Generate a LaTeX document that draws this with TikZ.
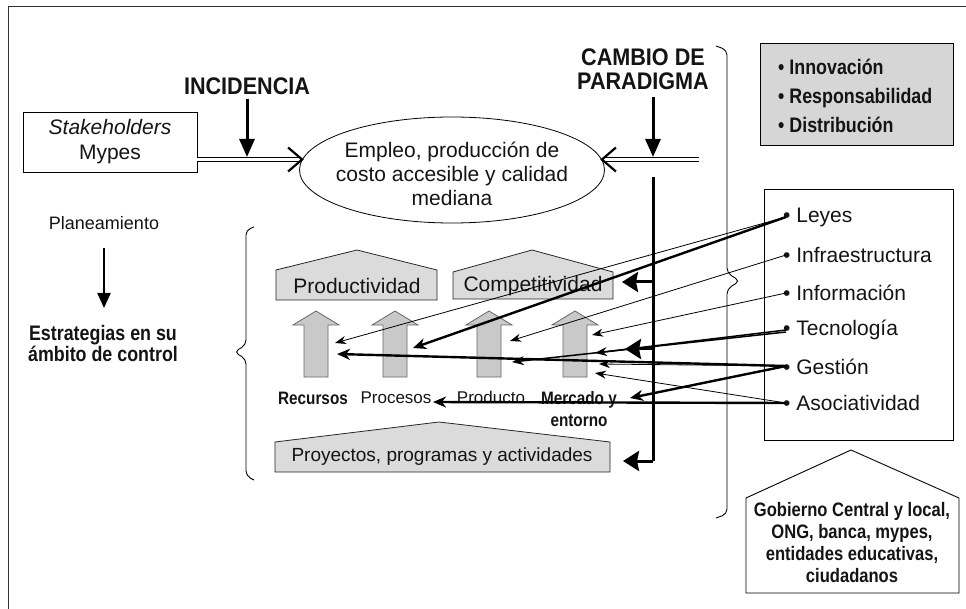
\documentclass[tikz,border=0pt]{standalone}
\usepackage{fontspec}
\setmainfont{Liberation Sans}
\newfontfamily\cnd[FakeStretch=0.85]{Liberation Sans}
\newfontfamily\cndh[FakeStretch=0.9]{Liberation Sans}
\usetikzlibrary{arrows.meta,shapes.geometric}
\newcommand\fsz[2]{\fontsize{#1}{#2}\selectfont}
\begin{document}
\begin{tikzpicture}[x=1pt,y=-1pt,
  every node/.style={inner sep=0pt, text=black!92},
  reg/.style={font=\fsz{21}{25}},
  thinc/.style={line width=0.8pt, -{Stealth[length=11pt,width=8pt,inset=3.5pt]}},
  medc/.style={line width=1.5pt, -{Stealth[length=12pt,width=9pt,inset=4pt]}},
  thickc/.style={line width=2.4pt, -{Stealth[length=13pt,width=11pt,inset=4pt]}},
  branchc/.style={line width=3pt, -{Stealth[length=16pt,width=20pt,inset=2pt]}},
  downarr/.style={line width=3pt, -{Triangle[length=18pt,width=15pt]}},
  dbl/.style={double, double distance=2.6pt, line width=0.8pt},
  chev/.style={line width=2.2pt, line join=miter},
  pent/.style={draw=black!85, fill=gray!28, line width=0.8pt},
  blk/.style={draw=black!60, fill=gray!42, line width=0.8pt},
  brace/.style={line width=0.9pt, rounded corners=5pt}
]
\useasboundingbox (0,0) rectangle (966,609);
% frame
\draw[line width=0.9pt, black!80] (966,6) -- (8,6) -- (8,609);

% ---------- top row ----------
\node[draw, line width=0.8pt, minimum width=174pt, minimum height=60pt, align=center, font=\fsz{21}{25}] (stk) at (110,142) {\textit{Stakeholders}\\Mypes};
\node[font=\cndh\bfseries\fsz{24}{24}] (inc) at (247,86) {INCIDENCIA};
\node[font=\cndh\bfseries\fsz{24}{24}, align=center] (cam) at (643,69) {CAMBIO DE\\PARADIGMA};

\node[draw, ellipse, line width=0.8pt, minimum width=305pt, minimum height=106pt] (ell) at (452,170) {};
\node[align=center, font=\fsz{21}{24}] (ellt) at (452,174) {Empleo, producción de\\costo accesible y calidad\\mediana};

% double arrows into ellipse
\coordinate (rdS) at ([xshift=97pt]ell.4);
\draw[dbl] (stk.east |- ell.176) -- ([xshift=-2pt]ell.176);
\draw[chev] ([xshift=-14pt,yshift=12pt]ell.176) -- (ell.176) -- ([xshift=-14pt,yshift=-12pt]ell.176);
\draw[dbl] (rdS) -- ([xshift=2pt]ell.4);
\draw[chev] ([xshift=14pt,yshift=12pt]ell.4) -- (ell.4) -- ([xshift=14pt,yshift=-12pt]ell.4);

% incidence arrows
\coordinate (incE) at (247,157);
\draw[downarr] ([yshift=-4pt]inc.south) -- (incE);
\coordinate (camA) at (653,97);
\coordinate (camB) at (653,157);
\draw[downarr] (camA) -- (camB);

% ---------- left column ----------
\node[font=\fsz{18}{20}] (plan) at (104,223) {Planeamiento};
\coordinate (planE) at (104,308);
\draw[line width=2.2pt, -{Triangle[length=15pt,width=13pt]}] ([yshift=-18pt]plan.south) -- (planE);
\node[align=center, font=\cnd\bfseries\fsz{21}{21}] (est) at (103,343) {Estrategias en su\\ámbito de control};

% left brace
\draw[brace] (254,227) -- (246,230) -- (246,345) -- (234,352) -- (246,359) -- (246,476) -- (254,480);

% ---------- central block ----------
\draw[pent] (276,300) -- (276,270) -- (357,250) -- (437,270) -- (437,300) -- cycle;
\node[font=\fsz{21}{25}] (prod) at (357,286) {Productividad};
\draw[pent] (453,299) -- (453,272) -- (532,250) -- (613,272) -- (613,299) -- cycle;
\node[font=\fsz{21}{25}] (comp) at (533,286) {Competitividad};
\draw[pent] (275,472) -- (275,442) -- (439,422) -- (610,442) -- (610,472) -- cycle;
\node[font=\fsz{19}{23}] (proy) at (442,457) {Proyectos, programas y actividades};

\foreach \cx in {316,395,489,575}{
  \draw[blk] (\cx,311) -- (\cx+23,325) -- (\cx+12,325) -- (\cx+12,377) -- (\cx-12,377) -- (\cx-12,325) -- (\cx-23,325) -- cycle;
}
\node[font=\cnd\bfseries\fsz{18}{20}] (rec) at (313,398) {Recursos};
\node[font=\fsz{17}{20}] (proc) at (396,398) {Procesos};
\node[font=\fsz{17}{20}] (prdt) at (491,397) {Producto};
\node[align=center, font=\cnd\bfseries\fsz{18}{22}] (mye) at (579,409) {Mercado y\\entorno};

% ---------- right column ----------
\node[draw, line width=0.9pt, fill=gray!32, minimum width=193pt, minimum height=102pt] (inn) at (856.5,94) {};
\node[anchor=west, align=left, font=\cnd\bfseries\fsz{21}{29}] (innt) at (778,96) {• Innovación\\• Responsabilidad\\• Distribución};

\node[draw, line width=0.9pt, minimum width=189pt, minimum height=251pt] (lst) at (858.5,314.5) {};
\node[anchor=west, reg] (iLey) at (783,217) {• Leyes};
\node[anchor=west, reg] (iInf) at (783,255) {• Infraestructura};
\node[anchor=west, reg] (iInfo) at (783,293) {• Información};
\node[anchor=west, reg] (iTec) at (783,330) {• Tecnología};
\node[anchor=west, reg] (iGes) at (783,367) {• Gestión};
\node[anchor=west, reg] (iAso) at (783,403) {• Asociatividad};

\draw[line width=0.9pt, fill=white] (746,593) -- (746,498) -- (851,450) -- (959,498) -- (959,593) -- cycle;
\node[align=center, font=\cnd\bfseries\fsz{19.5}{22}] (gob) at (852,543) {Gobierno Central y local,\\ONG, banca, mypes,\\entidades educativas,\\ciudadanos};

% right brace
\draw[brace] (716,46) -- (727,50) -- (727,273) -- (740,281) -- (727,289) -- (727,514) -- (716,518);

% ---------- paradigm line ----------
\coordinate (vTop) at (653,177);
\coordinate (vBot) at (653,461);
\coordinate (b1) at (653,282);
\coordinate (b2) at (653,349);
\coordinate (t1) at (622,282);
\coordinate (t2) at (625,349);
\coordinate (t3) at (623,461);
\draw[line width=3pt] (vTop) -- (vBot);
\draw[branchc] (b1) -- (t1);
\draw[branchc] (b2) -- (t2);
\draw[branchc] (vBot) -- (t3);

% ---------- connectors ----------
\coordinate (dLey) at (786,217);
\coordinate (dInf) at (786,255);
\coordinate (dInfo) at (786,293);
\coordinate (dTec) at (786,330);
\coordinate (dGes) at (786,366);
\coordinate (dAso) at (786,403);

\coordinate (tRecA) at (335,343);
\coordinate (tProcA) at (413,348);
\coordinate (tProdA) at (510,341);
\coordinate (tMerA) at (592,335);
\coordinate (tMerB) at (595,353);
\coordinate (tProdB) at (512,362);
\coordinate (tRecB) at (337,354);
\coordinate (tMerC) at (599,364);
\coordinate (tMyE) at (630,398);
\coordinate (tMerD) at (595,373);
\coordinate (tProcB) at (433,402);

\draw[thinc] (dLey) -- (tRecA);
\draw[thickc] (dLey) -- (tProcA);
\draw[thinc] (dInf) -- (tProdA);
\draw[thinc] (dInfo) -- (tMerA);
\draw[medc] (dTec) -- (tMerB);
\draw[medc] ([yshift=-2pt]dTec) -- (tProdB);
\draw[thickc] (dGes) -- (tRecB);
\draw[thinc] (dGes) -- (tMerC);
\draw[thickc] (dGes) -- (tMyE);
\draw[thinc] (dAso) -- (tMerD);
\draw[thickc] (dAso) -- (tProcB);
\end{tikzpicture}
\end{document}
